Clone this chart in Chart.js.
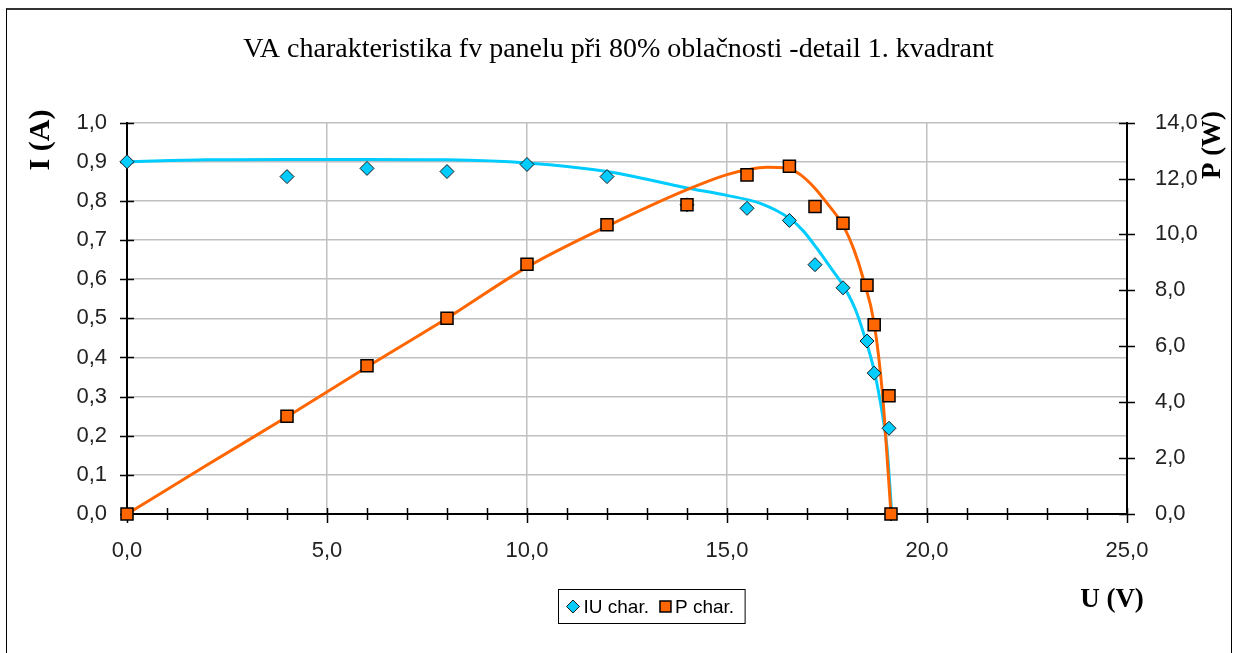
<!DOCTYPE html>
<html>
<head>
<meta charset="utf-8">
<script src="https://cdn.jsdelivr.net/npm/chart.js@4.4.1/dist/chart.umd.min.js"></script>
<style>
  html, body { margin: 0; padding: 0; background: #fff; }
  #wrap { position: relative; width: 1237px; height: 653px; }
  #frame {
    position: absolute; left: 6px; top: 8px; width: 1226px; height: 660px;
    border: 1px solid #000; border-top: 2px solid #333; box-sizing: border-box;
    pointer-events: none;
  }
</style>
</head>
<body>
<div id="wrap">
  <canvas id="chart" width="1237" height="653"></canvas>
  <div id="frame"></div>
</div>
<script>
// measured points (U in V, I in A, P in W)
var uMeasured = [0, 4, 6, 8, 10, 12, 14, 15.5, 16.56, 17.2, 17.9, 18.5, 18.68, 19.05, 19.1];
var iMeasured = [0.9, 0.862, 0.883, 0.875, 0.893, 0.862, 0.79, 0.781, 0.75, 0.637, 0.578, 0.442, 0.36, 0.219, 0];
var pMeasured = [0, 3.5, 5.3, 7.0, 8.93, 10.35, 11.06, 12.13, 12.44, 11.0, 10.4, 8.18, 6.77, 4.23, 0];

// trend curves
var uFitI = [0, 2, 4, 6, 8, 10, 12, 14, 15, 15.85, 16.58, 16.9, 17.23, 17.6, 17.89, 18.2, 18.43, 18.68, 18.89, 19.0, 19.12];
var iFit = [0.9, 0.905, 0.906, 0.906, 0.905, 0.897, 0.875, 0.833, 0.814, 0.793, 0.754, 0.724, 0.681, 0.628, 0.586, 0.525, 0.457, 0.366, 0.252, 0.17, 0];
var uFitP = [0, 2, 4, 6, 8, 10, 12, 14, 15, 15.5, 16, 16.5, 16.85, 17.18, 17.5, 17.89, 18.18, 18.4, 18.68, 18.89, 18.99, 19.1];
var pFit = [0, 1.75, 3.48, 5.26, 7.0, 8.83, 10.29, 11.6, 12.14, 12.31, 12.4, 12.38, 12.12, 11.68, 11.12, 10.35, 9.43, 8.45, 6.81, 4.25, 2.29, 0];

var xTicksMin = 0, xTicksMax = 25;
var legendNames = ["IU char.", "P char."];

var cyan = "#00ccff";
var orange = "#ff6600";

function pairs(xs, ys) {
  return xs.map(function (x, i) { return { x: x, y: ys[i] }; });
}
function comma(v) {
  return v.toFixed(1).replace(".", ",");
}

var decor = {
  id: "decor",
  beforeDraw: function (chart) {
    var ctx = chart.ctx;
    ctx.save();
    ctx.fillStyle = "#fff";
    ctx.fillRect(0, 0, chart.width, chart.height);
    ctx.restore();
  },
  beforeDatasetsDraw: function (chart) {
    // tick marks crossing the axes
    var ctx = chart.ctx, a = chart.chartArea;
    var sx = chart.scales.x, sy = chart.scales.y, sp = chart.scales.y1;
    ctx.save();
    ctx.strokeStyle = "#000";
    ctx.lineWidth = 1.5;
    ctx.beginPath();
    sx.ticks.forEach(function (t, i) {
      var px = Math.round(sx.getPixelForTick(i)) + 0.5;
      var down = t.value % 5 === 0 ? 9 : 6;
      ctx.moveTo(px, a.bottom - 6);
      ctx.lineTo(px, a.bottom + down);
    });
    sy.ticks.forEach(function (t, i) {
      var py = Math.round(sy.getPixelForTick(i)) + 0.5;
      ctx.moveTo(a.left - 7, py);
      ctx.lineTo(a.left + 7, py);
    });
    sp.ticks.forEach(function (t, i) {
      var py = Math.round(sp.getPixelForTick(i)) + 0.5;
      ctx.moveTo(a.right - 8, py);
      ctx.lineTo(a.right + 8, py);
    });
    ctx.stroke();
    ctx.restore();
  },
  afterDraw: function (chart) {
    var ctx = chart.ctx;
    ctx.save();
    ctx.fillStyle = "#000";
    ctx.textBaseline = "alphabetic";
    ctx.textAlign = "center";

    // axis titles
    ctx.font = "bold 30px 'Liberation Serif'";
    ctx.save();
    ctx.translate(49, 140);
    ctx.rotate(-Math.PI / 2);
    ctx.fillText("I (A)", 0, 0);
    ctx.restore();

    ctx.font = "bold 27px 'Liberation Serif'";
    ctx.save();
    ctx.translate(1220, 145);
    ctx.rotate(-Math.PI / 2);
    ctx.fillText("P (W)", 0, 0);
    ctx.restore();

    ctx.fillText("U (V)", 1112, 607);

    // legend with a frame
    var ds = chart.data.datasets;
    ctx.font = "19px 'Liberation Sans'";
    var w1 = ctx.measureText(legendNames[0]).width;
    var w2 = ctx.measureText(legendNames[1]).width;
    var boxW = 8 + 13 + 4 + w1 + 11 + 11 + 4 + w2 + 11;
    var boxL = Math.round(651.5 - boxW / 2) + 0.5;
    var boxT = 589.5, boxH = 34, cy = boxT + boxH / 2;
    ctx.strokeStyle = "#000";
    ctx.lineWidth = 1;
    ctx.strokeRect(boxL, boxT, boxW, boxH);

    var x = boxL + 8;
    // diamond
    ctx.beginPath();
    ctx.moveTo(x + 6.5, cy - 6.5);
    ctx.lineTo(x + 13, cy);
    ctx.lineTo(x + 6.5, cy + 6.5);
    ctx.lineTo(x, cy);
    ctx.closePath();
    ctx.fillStyle = ds[0].backgroundColor;
    ctx.fill();
    ctx.strokeStyle = ds[0].borderColor;
    ctx.stroke();
    x += 13 + 4;
    ctx.fillStyle = "#000";
    ctx.textAlign = "left";
    ctx.textBaseline = "middle";
    ctx.fillText(legendNames[0], x, cy + 1);
    x += w1 + 11;
    // square
    ctx.fillStyle = ds[1].backgroundColor;
    ctx.fillRect(x, cy - 5.5, 11, 11);
    ctx.strokeStyle = ds[1].borderColor;
    ctx.lineWidth = 1.5;
    ctx.strokeRect(x, cy - 5.5, 11, 11);
    x += 11 + 4;
    ctx.fillStyle = "#000";
    ctx.fillText(legendNames[1], x, cy + 1);
    ctx.restore();
  }
};

var tickFont = { family: "'Liberation Sans', Arial, sans-serif", size: 22 };

new Chart(document.getElementById("chart"), {
  type: "scatter",
  data: {
    datasets: [
      {
        label: legendNames[0],
        data: pairs(uMeasured, iMeasured),
        yAxisID: "y",
        pointStyle: "rectRot",
        pointRadius: 7,
        backgroundColor: cyan,
        borderColor: "#1a1a1a",
        borderWidth: 1,
        clip: false,
        order: 1,
      },
      {
        label: legendNames[1],
        data: pairs(uMeasured, pMeasured),
        yAxisID: "y1",
        pointStyle: "rect",
        pointRadius: 8.5,
        backgroundColor: orange,
        borderColor: "#000",
        borderWidth: 1.5,
        clip: false,
        order: 0,
      },
      {
        label: "IU trend",
        data: pairs(uFitI, iFit),
        yAxisID: "y",
        showLine: true,
        pointRadius: 0,
        borderColor: cyan,
        borderWidth: 3,
        cubicInterpolationMode: "monotone",
        order: 3,
      },
      {
        label: "P trend",
        data: pairs(uFitP, pFit),
        yAxisID: "y1",
        showLine: true,
        pointRadius: 0,
        borderColor: orange,
        borderWidth: 3,
        cubicInterpolationMode: "monotone",
        order: 2,
      },
    ],
  },
  options: {
    responsive: false,
    animation: false,
    layout: { padding: 0 },
    plugins: {
      legend: { display: false },
      tooltip: { enabled: false },
      title: {
        display: true,
        text: "VA charakteristika fv panelu při 80% oblačnosti -detail 1. kvadrant",
        color: "#000",
        font: { family: "'Liberation Serif', 'Times New Roman', serif", size: 28, weight: "normal", lineHeight: 1.2 },
        padding: { top: 33, bottom: 56 },
      },
    },
    scales: {
      x: {
        type: "linear",
        min: xTicksMin,
        max: xTicksMax,
        afterFit: function (s) { s.height = 139; },
        ticks: {
          stepSize: 1,
          autoSkip: false,
          maxRotation: 0,
          padding: 24,
          color: "#222",
          font: tickFont,
          callback: function (v) { return v % 5 === 0 ? comma(v) : ""; },
        },
        grid: {
          drawTicks: false,
          lineWidth: 1.5,
          color: function (c) {
            var v = c.tick ? c.tick.value : 0;
            return v % 5 === 0 && v > 0 && v < 25 ? "#c0c0c0" : "rgba(0,0,0,0)";
          },
        },
        border: { display: true, color: "#000", width: 2 },
      },
      y: {
        position: "left",
        min: 0,
        max: 1,
        afterFit: function (s) { s.width = 127; },
        ticks: { stepSize: 0.1, padding: 20, color: "#222", font: tickFont, callback: function (v) { return comma(v); } },
        grid: { drawTicks: false, lineWidth: 1.5, color: "#c0c0c0" },
        border: { display: true, color: "#000", width: 2 },
      },
      y1: {
        position: "right",
        min: 0,
        max: 14,
        afterFit: function (s) { s.width = 110; },
        ticks: { stepSize: 2, padding: 20, color: "#222", font: tickFont, callback: function (v) { return comma(v); } },
        grid: { display: false },
        border: { display: true, color: "#000", width: 2 },
      },
    },
  },
  plugins: [decor],
});
</script>
</body>
</html>
